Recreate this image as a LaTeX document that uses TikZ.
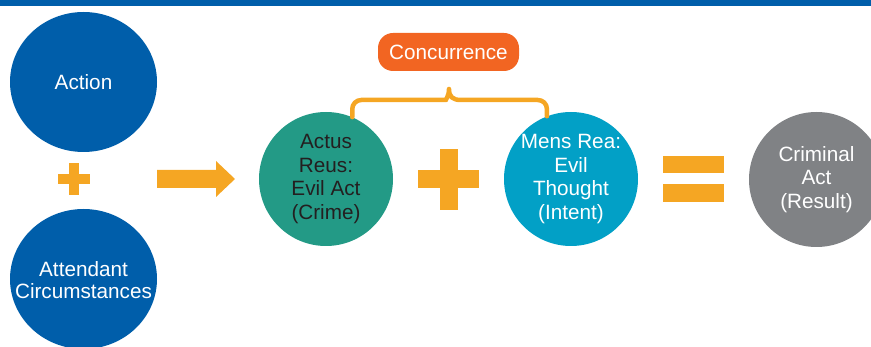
\documentclass[tikz,border=0pt]{standalone}
\usepackage{fontspec}
\setmainfont{Liberation Sans}
\usetikzlibrary{shapes.geometric}
\definecolor{cblue}{HTML}{005EAA}
\definecolor{cgreen}{HTML}{239A86}
\definecolor{ccyan}{HTML}{02A0C6}
\definecolor{cgrey}{HTML}{808285}
\definecolor{corange}{HTML}{F26522}
\definecolor{cyell}{HTML}{F5A623}
\definecolor{cdark}{HTML}{231F20}
\begin{document}
\begin{tikzpicture}[x=1pt,y=-1pt,
  txt/.style={align=center,font=\fontsize{20.7}{23.5}\selectfont},
  bigcirc/.style={circle,inner sep=0pt,minimum size=134pt,txt},
  leftell/.style={ellipse,inner sep=0pt,minimum width=147pt,minimum height=140pt,fill=cblue},
  sym/.style={fill=cyell,draw=none},
  brace/.style={draw=cyell,line width=4.5pt,line cap=round,line join=round}]
\clip (0,0) rectangle (871,347);
\fill[cblue] (0,0) rectangle (871,6);
% left circles
\node[leftell] (action) at (83.5,82) {};
\node[txt,text=white,inner sep=0pt] (actiontxt) at (action.center) {Action};
\node[leftell] (attend) at (83.5,279) {};
\node[txt,text=white,inner sep=0pt] (attendtxt) at ([yshift=-1pt]attend.center) {Attendant\\[-2pt]Circumstances};
% small plus
\fill[sym] (58,174) rectangle (90,184);
\fill[sym] (69,163) rectangle (79,195);
% arrow
\fill[sym] (157,170) -- (216,170) -- (216,161) -- (235,179) -- (216,197) -- (216,188) -- (157,188) -- cycle;
% main circles
\node[bigcirc,fill=cgreen,text=cdark] (actus) at (326,179) {Actus\\Reus:\\Evil Act\\(Crime)};
\node[bigcirc,fill=ccyan,text=white] (mens) at (571,179) {Mens Rea:\\Evil\\Thought\\(Intent)};
\node[bigcirc,minimum size=135pt,fill=cgrey,text=white] (crim) at (816.5,179.5) {Criminal\\Act\\(Result)};
% big plus
\fill[sym] (418,170) rectangle (479,188);
\fill[sym] (440,149) rectangle (458,210);
% equals
\fill[sym] (663,156) rectangle (724,173);
\fill[sym] (663,184) rectangle (724,202);
% concurrence
\node[fill=corange,text=white,rounded corners=15pt,minimum width=141pt,minimum height=38pt,inner sep=0pt,txt] (concur) at (448.5,52) {Concurrence};
% brace
\coordinate (tip) at (449,89);
\draw[brace,rounded corners=9pt] (actus.67) |- (437,100) [sharp corners] .. controls (445,100) and (449,97) .. (tip) .. controls (449,97) and (453,100) .. (461,100) [rounded corners=9pt] -| (mens.111);
\end{tikzpicture}
\end{document}
